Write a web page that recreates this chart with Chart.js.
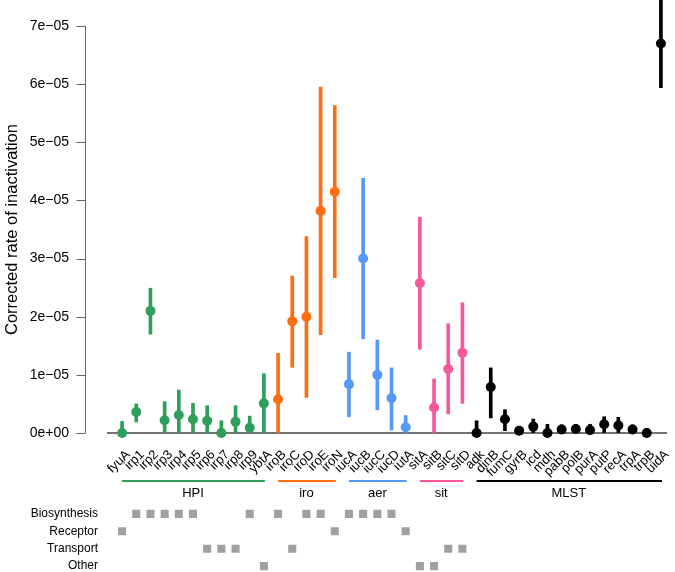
<!DOCTYPE html>
<html><head><meta charset="utf-8">
<script src="https://cdn.jsdelivr.net/npm/chart.js@4"></script>
<style>
html,body{margin:0;padding:0;background:#fff;overflow:hidden;width:675px;height:572px}
#c1{position:absolute;left:0;top:0}
#c2{position:absolute;left:0;top:498px}
</style></head><body>
<canvas id="c1" width="675" height="505"></canvas>
<canvas id="c2" width="675" height="84"></canvas>
<script>
// ---- data ----
const hpiGenes = ['fyuA','irp1','irp2','irp3','irp4','irp5','irp6','irp7','irp8','irp9','ybtA'];
const iroGenes = ['iroB','iroC','iroD','iroE','iroN'];
const aerGenes = ['iucA','iucB','iucC','iucD','iutA'];
const sitGenes = ['sitA','sitB','sitC','sitD'];
const mlstGenes = ['adk','dinB','fumC','gyrB','icd','mdh','pabB','polB','purA','putP','recA','trpA','trpB','uidA'];
const groupNames = ['HPI','iro','aer','sit','MLST'];
const groupColors = ['#2e9f5a','#ff6d12','#5598f8','#f8579a','#000000'];

const hpiRate  = [0, 3.6e-6, 2.1e-5, 2.2e-6, 3.1e-6, 2.35e-6, 2.1e-6, 0, 1.95e-6, 0.9e-6, 5.1e-6];
const hpiLower = [0, 1.9e-6, 1.7e-5, 0, 0, 0, 0, 0, 0, 0, 0];
const hpiUpper = [2.0e-6, 5.0e-6, 2.49e-5, 5.4e-6, 7.4e-6, 5.1e-6, 4.7e-6, 2.1e-6, 4.7e-6, 2.9e-6, 1.02e-5];

const iroRate  = [5.8e-6, 1.92e-5, 2.0e-5, 3.82e-5, 4.15e-5];
const iroLower = [0, 1.13e-5, 6.1e-6, 1.69e-5, 2.67e-5];
const iroUpper = [1.37e-5, 2.7e-5, 3.38e-5, 5.95e-5, 5.63e-5];

const aerRate  = [8.4e-6, 3.0e-5, 1.0e-5, 6.0e-6, 1.0e-6];
const aerLower = [2.8e-6, 1.62e-5, 4.0e-6, 0.5e-6, 0];
const aerUpper = [1.39e-5, 4.38e-5, 1.6e-5, 1.12e-5, 3.0e-6];

const sitRate  = [2.58e-5, 4.4e-6, 1.1e-5, 1.38e-5];
const sitLower = [1.44e-5, 0, 3.3e-6, 5.1e-6];
const sitUpper = [3.71e-5, 9.3e-6, 1.88e-5, 2.24e-5];

const mlstRate  = [0, 7.9e-6, 2.35e-6, 0.4e-6, 1.1e-6, 0, 0.6e-6, 0.7e-6, 0.5e-6, 1.5e-6, 1.3e-6, 0.6e-6, 0, 6.7e-5];
const mlstLower = [0, 2.6e-6, 0.4e-6, 0, 0, 0, 0, 0, 0, 0, 0, 0, 0, 5.94e-5];
const mlstUpper = [2.1e-6, 1.12e-5, 4.0e-6, 0.9e-6, 2.4e-6, 1.5e-6, 1.4e-6, 1.4e-6, 1.5e-6, 2.8e-6, 2.7e-6, 1.4e-6, 0.8e-6, 7.6e-5];

const yTicks = [0, 1e-5, 2e-5, 3e-5, 4e-5, 5e-5, 6e-5, 7e-5];
const yTickLabels = ['0e+00','1e\u221205','2e\u221205','3e\u221205','4e\u221205','5e\u221205','6e\u221205','7e\u221205'];

const rowNames = ['Biosynthesis','Receptor','Transport','Other'];
const biosynthesis = ['irp1','irp2','irp3','irp4','irp5','irp9','iroB','iroD','iroE','iucA','iucB','iucC','iucD'];
const receptor = ['fyuA','iroN','iutA'];
const transport = ['irp6','irp7','irp8','iroC','sitC','sitD'];
const other = ['ybtA','sitA','sitB'];

// ---- build ----
const groupGenes = [hpiGenes, iroGenes, aerGenes, sitGenes, mlstGenes];
const genes = groupGenes.flat();
const rate = [hpiRate, iroRate, aerRate, sitRate, mlstRate].flat();
const lower = [hpiLower, iroLower, aerLower, sitLower, mlstLower].flat();
const upper = [hpiUpper, iroUpper, aerUpper, sitUpper, mlstUpper].flat();
const colors = groupGenes.flatMap((g, gi) => g.map(() => groupColors[gi]));

const FONT = 'Liberation Sans, Arial, sans-serif';
const AXIS_W = 115;
const PAD_R = 7;
const CLEAR = 'rgba(0,0,0,0)';

const decor = {
  id: 'decor',
  beforeDatasetsDraw(chart) {
    const {ctx, chartArea} = chart;
    const ys = chart.scales.y, xs = chart.scales.x;
    const y0 = ys.getPixelForValue(0);
    ctx.save();
    // zero line
    ctx.strokeStyle = '#444';
    ctx.lineWidth = 1.3;
    ctx.beginPath();
    ctx.moveTo(chartArea.left - 8, y0);
    ctx.lineTo(chartArea.right - 1, y0);
    ctx.stroke();
    // y axis line and ticks
    const ax = 85.5;
    ctx.strokeStyle = '#666';
    ctx.lineWidth = 1;
    ctx.beginPath();
    ctx.moveTo(ax, ys.getPixelForValue(yTicks[yTicks.length - 1]));
    ctx.lineTo(ax, ys.getPixelForValue(yTicks[0]));
    yTicks.forEach(v => {
      const p = Math.round(ys.getPixelForValue(v)) + 0.5;
      ctx.moveTo(ax - 9, p);
      ctx.lineTo(ax, p);
    });
    ctx.stroke();
    // group lines and names
    ctx.font = '13px ' + FONT;
    ctx.textAlign = 'center';
    ctx.textBaseline = 'alphabetic';
    groupGenes.forEach((g, gi) => {
      const x1 = xs.getPixelForValue(genes.indexOf(g[0]));
      const x2 = xs.getPixelForValue(genes.indexOf(g[g.length - 1]));
      ctx.strokeStyle = groupColors[gi];
      ctx.lineWidth = 2;
      ctx.beginPath();
      ctx.moveTo(x1, 481);
      ctx.lineTo(x2 + 1, 481);
      ctx.stroke();
      ctx.fillStyle = '#000';
      ctx.fillText(groupNames[gi], (x1 + x2) / 2, 497);
    });
    ctx.restore();
  }
};

new Chart(document.getElementById('c1'), {
  type: 'bar',
  data: {
    labels: genes,
    datasets: [
      {
        type: 'bar',
        data: genes.map((g, i) => [lower[i], upper[i]]),
        backgroundColor: colors,
        borderWidth: 0,
        barThickness: 3,
        clip: false,
        order: 2
      },
      {
        type: 'line',
        data: rate,
        showLine: false,
        pointRadius: 5,
        pointBackgroundColor: colors,
        pointBorderWidth: 0,
        clip: false,
        order: 1
      }
    ]
  },
  options: {
    responsive: false,
    animation: false,
    devicePixelRatio: 1,
    layout: {padding: {top: 26, right: PAD_R, bottom: 0, left: 0}},
    plugins: {legend: {display: false}, tooltip: {enabled: false}},
    scales: {
      x: {
        offset: true,
        grid: {display: true, drawOnChartArea: false, drawTicks: true, tickLength: 14, color: CLEAR},
        border: {display: false},
        ticks: {minRotation: 45, maxRotation: 45, autoSkip: false, color: '#000', padding: 0,
                labelOffset: 6, font: {family: FONT, size: 13}},
        afterFit(s) { s.height = 72; }
      },
      y: {
        min: 0, max: 7e-5,
        grid: {display: true, drawOnChartArea: false, drawTicks: true, tickLength: 46, color: CLEAR},
        border: {display: false},
        afterBuildTicks(s) { s.ticks = yTicks.map(v => ({value: v})); },
        ticks: {callback: (v, i) => yTickLabels[i], padding: 0, color: '#000',
                font: {family: FONT, size: 14}},
        title: {display: true, text: 'Corrected rate of inactivation', color: '#000',
                font: {family: FONT, size: 16.5}, padding: 3},
        afterFit(s) { s.width = AXIS_W; }
      }
    }
  },
  plugins: [decor]
});

const rowLists = [biosynthesis, receptor, transport, other];
const cellPoints = rowLists.flatMap((list, ri) => list.map(g => ({x: g, y: rowNames[ri]})));

new Chart(document.getElementById('c2'), {
  type: 'scatter',
  data: {
    datasets: [{
      data: cellPoints,
      pointStyle: 'rect',
      pointRadius: 5.7,
      backgroundColor: '#a0a0a0',
      borderWidth: 0
    }]
  },
  options: {
    responsive: false,
    animation: false,
    devicePixelRatio: 1,
    layout: {padding: {top: 0, right: PAD_R, bottom: 0, left: 0}},
    plugins: {legend: {display: false}, tooltip: {enabled: false}},
    scales: {
      x: {type: 'category', labels: genes, offset: true, display: false},
      y: {
        type: 'category', labels: rowNames, offset: true,
        grid: {display: true, drawOnChartArea: false, drawTicks: true, tickLength: 17, color: CLEAR},
        border: {display: false},
        ticks: {padding: 0, autoSkip: false, color: '#000', font: {family: FONT, size: 12}},
        afterFit(s) { s.width = AXIS_W; }
      }
    }
  }
});
</script>
</body></html>
